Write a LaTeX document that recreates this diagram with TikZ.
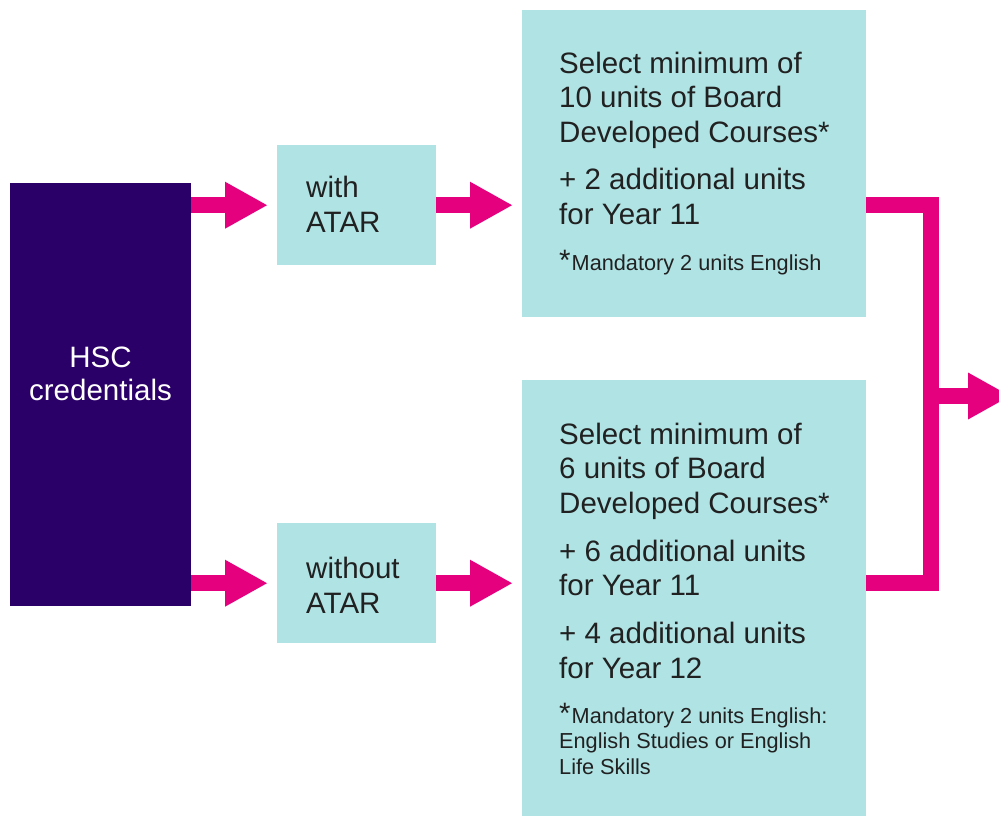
\documentclass[tikz,border=0pt]{standalone}
\usepackage{fontspec}
\setmainfont{Liberation Sans}
\usetikzlibrary{arrows.meta,positioning}
\definecolor{hscpurple}{HTML}{2A0068}
\definecolor{boxcyan}{HTML}{B0E3E4}
\definecolor{flowpink}{HTML}{E5007D}
\definecolor{inktext}{HTML}{212121}
\begin{document}
\begin{tikzpicture}[x=1pt,y=-1pt,
  box/.style={fill=boxcyan,anchor=north west,inner sep=0pt},
  body/.style={text=inktext,anchor=base west,inner sep=0pt,align=left,font=\fontsize{29.5}{34.5}\selectfont},
  note/.style={text=inktext,anchor=base west,inner sep=0pt,align=left,font=\fontsize{21.7}{25.5}\selectfont},
  flow/.style={flowpink,line width=16pt,-{Triangle[length=42pt,width=47pt,line width=0pt]},shorten >=10pt}]
\useasboundingbox (0,0) rectangle (999,816);

\node[box,fill=hscpurple,minimum width=181pt,minimum height=423pt] (hsc) at (10,183) {};
\node[body,text=white,anchor=base,align=center,font=\fontsize{29.5}{33}\selectfont] (hsctext) at (100.5,400) {HSC\\credentials};

\node[box,minimum width=159pt,minimum height=120pt] (with) at (277,145) {};
\node[body] (withtext) at (306,232) {with\\ATAR};
\node[box,minimum width=159pt,minimum height=120pt] (without) at (277,523) {};
\node[body] (withouttext) at (306,613) {without\\ATAR};

\node[box,minimum width=344pt,minimum height=307pt] (topcourse) at (522,10) {};
\node[body] (toptext) at (559,224) {Select minimum of\\10 units of Board\\Developed Courses*\\[13pt]+ 2 additional units\\for Year 11};
\node[note] (topnote) at (559,270) {{\fontsize{29.5}{30}\selectfont*}\kern1pt Mandatory 2 units English};

\node[box,minimum width=344pt,minimum height=436pt] (botcourse) at (522,380) {};
\node[body] (bottext) at (559,678) {Select minimum of\\6 units of Board\\Developed Courses*\\[13.5pt]+ 6 additional units\\for Year 11\\[13.5pt]+ 4 additional units\\for Year 12};
\node[note] (botnote) at (559,774) {{\fontsize{29.5}{30}\selectfont*}\kern1pt Mandatory 2 units English:\\English Studies or English\\Life Skills};

\draw[flow] (hsc.east |- with.west) -- (with.west);
\draw[flow] (with.east) -- (with.east -| topcourse.west);
\draw[flow] (hsc.east |- without.west) -- (without.west);
\draw[flow] (without.east) -- (without.east -| botcourse.west);

\coordinate (merge) at (931,396);
\coordinate (out) at (1010,396);
\draw[flowpink,line width=16pt] (topcourse.east |- with.east) -| (merge) |- (botcourse.east |- without.east);
\draw[flow,shorten >=0pt] (merge) -- (out);
\end{tikzpicture}
\end{document}
